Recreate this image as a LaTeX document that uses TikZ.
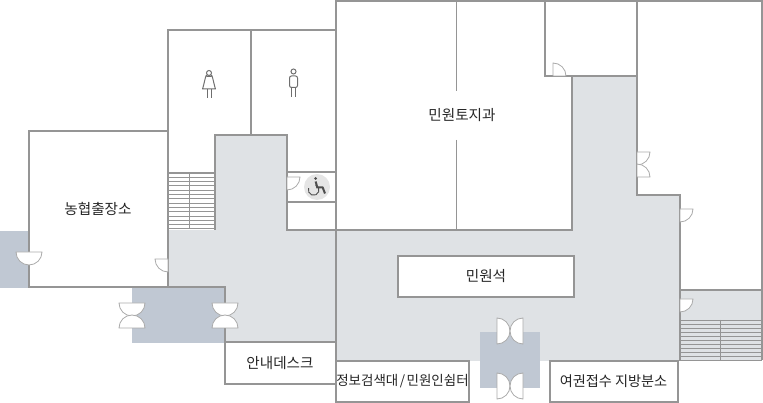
\documentclass[tikz,border=0pt]{standalone}
\usepackage{fontspec}
\setmainfont{Noto Sans CJK KR}
\definecolor{wallgray}{HTML}{959595}
\definecolor{halldgray}{HTML}{DFE2E5}
\definecolor{lobbyblue}{HTML}{C0C8D3}
\definecolor{icongray}{HTML}{6E6E6E}
\tikzset{
    wall/.style = {draw=wallgray,line width=2pt},
    partition/.style = {draw=wallgray,line width=1pt},
    tread/.style = {draw=wallgray,line width=0.9pt},
    doorleaf/.style = {draw=wallgray!80,fill=white,line width=0.8pt},
    icon/.style = {draw=icongray,line width=1pt},
    roomlabel/.style = {inner sep=0,font=\fontsize{14.6}{14.6}\selectfont,text=black!85}
}
\tikzset{
    desk/.style = {roomlabel,draw=wallgray,fill=white,line width=2pt}
}
\begin{document}
\begin{tikzpicture}[x=1pt,y=-1pt]
    \newcommand*\doorsize{13}
    \useasboundingbox (0,0) rectangle (763,403);
    % Floors
    \fill[halldgray] (215,135) rectangle (287,230);
    \fill[halldgray] (168,230) rectangle (336,342);
    \fill[halldgray] (336,230) rectangle (680,361);
    \fill[halldgray] (572,76) rectangle (637,230);
    \fill[halldgray] (637,195) rectangle (680,230);
    \fill[halldgray] (680,290) rectangle (762,360);
    \fill[lobbyblue] (0,231) rectangle (29,288);
    \fill[lobbyblue] (132,287) rectangle (225,343);
    \fill[lobbyblue] (480,332) rectangle (540,388);
    % Stairs
    \foreach \i in {1,...,13}
        \draw[tread] (168,173+\i*4.3) to (215,173+\i*4.3);
    \draw[tread] (189.5,173) to (189.5,229);
    \foreach \i in {0,...,10}
        \draw[tread] (680,320+\i*4) to (762,320+\i*4);
    \draw[tread] (720.5,320) to (720.5,360);
    % Walls
    \draw[wall] (29,131) rectangle (168,287);
    \draw[wall] (168,131) to (168,30) to (336,30);
    \draw[wall] (168,287) to (225,287) to (225,384) to (336,384);
    \draw[wall] (225,342) to (336,342);
    \draw[wall] (251,30) to (251,135);
    \draw[wall] (168,173) to (215,173);
    \draw[wall] (215,230) to (215,135) to (287,135) to (287,230) to (572,230) to (572,76);
    \draw[wall] (287,172) to (336,172);
    \draw[wall] (287,202) to (336,202);
    \draw[wall] (336,402) to (336,1) to (762,1) to (762,360);
    \draw[wall] (545,1) to (545,76) to (637,76);
    \draw[wall] (637,1) to (637,195) to (680,195) to (680,361);
    \draw[wall] (680,290) to (762,290);
    \draw[partition] (456.5,1) to (456.5,91);
    \draw[partition] (456.5,140) to (456.5,230);
    % Single leaves
    \foreach \hx/\hy/\from/\to in {287/177/0/90,168/259/180/90,553/76/-90/0,637/152/0/90,637/177/0/-90,680/209/0/90,680/299/0/90}
        \draw[doorleaf] (\hx,\hy) to +(\from:\doorsize) arc (\from:\to:\doorsize) to cycle;
    % Double doors
    \foreach \cx/\cy/\from in {29/252/0,132/303/0,132/328/180,225/303/0,225/328/180,497/331/-90,523/331/90,497/386/-90,523/386/90}
        \draw[doorleaf] (\cx,\cy) +(\from:\doorsize) arc (\from:\from+180:\doorsize) to cycle;
    % Rest rooms
    \draw[icon] (209,73) circle (2.5);
    \draw[icon,line join=round] (207,76.5) to (211,76.5) to[out=80,in=110] (215.5,89) to (202.5,89) to[out=70,in=100] (207,76.5);
    \foreach \lx in {207,211}
        \draw[icon] (\lx,89) to (\lx,98);
    \draw[icon] (293.5,71.5) circle (2.5);
    \draw[icon,rounded corners=2pt] (289.5,76) rectangle (297.5,87.5);
    \foreach \lx in {291.5,295.5}
        \draw[icon] (\lx,87.5) to (\lx,97);
    \fill[black!10] (317,187) circle (13);
    \fill[icongray!70!black] (315.7,178.5) circle (1.5);
    \draw[icongray!70!black,line width=2pt] (315.7,181.5) to (317.2,187.3) to (322.7,187.5) to (325,193.5);
    \draw[icongray!70!black,line width=0.9pt] (315.5,184.8) arc (-70:200:5.4);
    % Labels
    \node[roomlabel] (nhoffice) at (98,209) {농협출장소};
    \node[roomlabel] (landoffice) at (462,115.5) {민원토지과};
    \node[desk,minimum width=176,minimum height=41] (seats) at (486,276.5) {민원석};
    \node[desk,minimum width=133,minimum height=41,font=\fontsize{13.5}{13.5}\selectfont] (kiosk) at (402.5,381.5) {정보검색대\hspace{1.5pt}/\hspace{1.5pt}민원인쉼터};
    \node[desk,minimum width=128,minimum height=41,font=\fontsize{14.2}{14.2}\selectfont] (passport) at (613.5,381.5) {여권접수\hspace{3pt}지방분소};
    \node[roomlabel] (infodesk) at (280,363) {안내데스크};
\end{tikzpicture}
\end{document}
